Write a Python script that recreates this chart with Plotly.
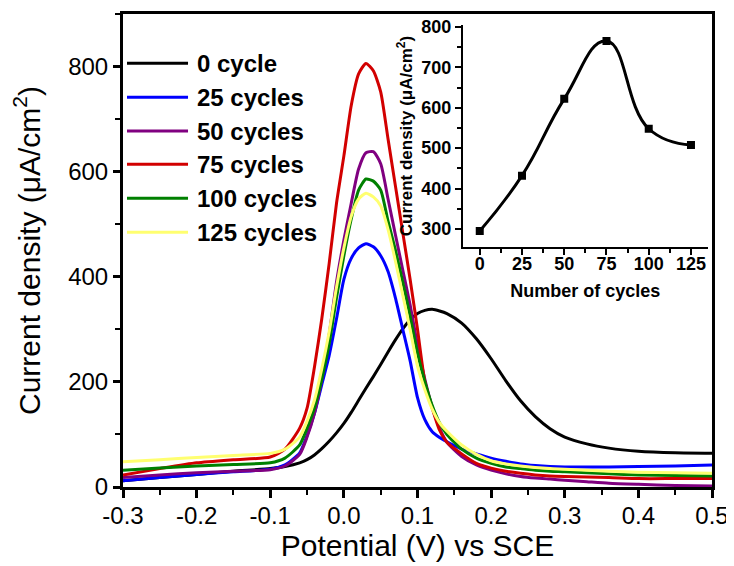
import plotly.graph_objects as go

# ---------------- data ----------------
potential = [-0.30, -0.25, -0.20, -0.15, -0.10, -0.08, -0.06, -0.05, -0.04, -0.03, -0.02, -0.01,
             0.00, 0.01, 0.02, 0.03, 0.04, 0.05, 0.06, 0.07, 0.08, 0.09, 0.10, 0.11, 0.12, 0.13,
             0.14, 0.16, 0.18, 0.20, 0.22, 0.24, 0.26, 0.28, 0.30, 0.33, 0.36, 0.40, 0.45, 0.50]

cycle0 = [12, 18, 24, 30, 35, 39, 46, 52, 61, 73, 87, 103, 121, 142, 165, 188, 210, 233, 257, 280,
          301, 318, 330, 336, 338, 335, 330, 312, 282, 244, 202, 164, 134, 111, 95, 82, 74, 68, 65, 64]
cycle25 = [12, 18, 24, 29, 34, 42, 65, 98, 140, 195, 250, 320, 395, 435, 455, 463, 457, 440, 410, 360,
           300, 240, 170, 128, 105, 94, 86, 72, 63, 55, 49, 44, 41, 39, 38, 38, 38, 39, 40, 42]
cycle50 = [18, 23, 27, 30, 33, 40, 62, 95, 140, 205, 290, 390, 470, 540, 605, 636, 638, 615, 548, 480,
           413, 346, 270, 205, 152, 112, 85, 58, 42, 32, 25, 20, 17, 15, 13, 10, 7, 5, 3, 2]
cycle75 = [23, 35, 46, 52, 57, 72, 112, 150, 228, 320, 425, 540, 630, 726, 786, 806, 792, 752, 662, 573,
           484, 395, 300, 200, 150, 108, 85, 63, 45, 36, 30, 26, 23, 21, 20, 19, 18, 16, 16, 16]
cycle100 = [32, 36, 40, 43, 46, 55, 80, 112, 150, 205, 272, 360, 440, 510, 565, 586, 582, 565, 506, 451,
            390, 325, 255, 200, 155, 122, 100, 72, 55, 45, 38, 35, 32, 30, 29, 27, 25, 23, 22, 21]
cycle125 = [48, 52, 56, 60, 64, 72, 95, 125, 165, 225, 295, 380, 455, 515, 548, 559, 552, 535, 490, 430,
            365, 300, 230, 185, 148, 122, 106, 80, 62, 50, 44, 40, 37, 35, 34, 32, 30, 28, 27, 26]

series_names = ["0 cycle", "25 cycles", "50 cycles", "75 cycles", "100 cycles", "125 cycles"]
series_values = [cycle0, cycle25, cycle50, cycle75, cycle100, cycle125]
series_colors = ["#000000", "#0000FF", "#800080", "#D20000", "#008000", "#FFFF70"]

x_tickvals = [-0.3, -0.2, -0.1, 0.0, 0.1, 0.2, 0.3, 0.4, 0.5]
x_ticktext = ["-0.3", "-0.2", "-0.1", "0.0", "0.1", "0.2", "0.3", "0.4", "0.5"]
y_tickvals = [0, 200, 400, 600, 800]

inset_cycles = [0, 25, 50, 75, 100, 125]
inset_density = [295, 432, 622, 765, 548, 508]
inset_yticks = [300, 400, 500, 600, 700, 800]

FONT = "Liberation Sans, Arial, sans-serif"

fig = go.Figure()
for name, vals, col in zip(series_names, series_values, series_colors):
    fig.add_trace(go.Scatter(x=potential, y=vals, mode="lines", name=name,
                             line=dict(color=col, width=3, shape="spline", smoothing=0.6),
                             showlegend=False))

fig.add_trace(go.Scatter(x=inset_cycles, y=inset_density, mode="lines+markers",
                         xaxis="x2", yaxis="y2", showlegend=False,
                         line=dict(color="black", width=3, shape="spline", smoothing=1.3),
                         marker=dict(symbol="square", size=8, color="black")))

# custom legend (long line samples like the original)
leg_y = [0.8958, 0.8239, 0.7526, 0.6822, 0.6104, 0.5385]
shapes = []
annotations = []
for name, col, yy in zip(series_names, series_colors, leg_y):
    shapes.append(dict(type="line", xref="paper", yref="paper", x0=0.0068, x1=0.1104, y0=yy, y1=yy,
                       line=dict(color=col, width=3)))
    annotations.append(dict(xref="paper", yref="paper", x=0.1222, y=yy, text=name, showarrow=False,
                            xanchor="left", yanchor="middle",
                            font=dict(family=FONT, size=24, color="black", weight="bold")))

# the page body adds an 8px offset; the figure is sized so the plot box lands where the original has it
fig.update_layout(
    width=726, height=558,
    margin=dict(l=115, r=22, t=6, b=79, autoexpand=False),
    paper_bgcolor="white", plot_bgcolor="white",
    font=dict(family=FONT, color="black"),
    shapes=shapes, annotations=annotations,
    xaxis=dict(range=[-0.3, 0.5], domain=[0, 1], tickmode="array", tickvals=x_tickvals, ticktext=x_ticktext,
               showline=True, linecolor="black", linewidth=3, mirror=True, showgrid=False, zeroline=False,
               ticks="outside", ticklen=8, tickwidth=2.5, tickcolor="black", automargin=False,
               ticklabelstandoff=-3,
               minor=dict(tickmode="linear", tick0=-0.3, dtick=0.05, ticks="outside", ticklen=5, tickwidth=2,
                          tickcolor="black", showgrid=False),
               tickfont=dict(size=24, family=FONT),
               title=dict(text="Potential (V) vs SCE", font=dict(size=30, family=FONT), standoff=7)),
    yaxis=dict(range=[0, 900], tickmode="array", tickvals=y_tickvals,
               showline=True, linecolor="black", linewidth=3, mirror=True, showgrid=False, zeroline=False,
               ticks="outside", ticklen=7, tickwidth=2.5, tickcolor="black", automargin=False,
               minor=dict(tickmode="linear", tick0=0, dtick=100, ticks="outside", ticklen=5, tickwidth=2,
                          tickcolor="black", showgrid=False),
               tickfont=dict(size=24, family=FONT),
               title=dict(text="Current density (μA/cm<sup>2</sup>)", font=dict(size=30, family=FONT), standoff=24)),
    xaxis2=dict(domain=[0.577, 0.993], anchor="y2", range=[-10, 135], tickmode="array",
                tickvals=inset_cycles, automargin=False,
                showline=True, linecolor="black", linewidth=2, mirror=False, showgrid=False, zeroline=False,
                ticks="outside", ticklen=6, tickwidth=2, tickcolor="black",
                ticklabelstandoff=-7,
                minor=dict(tickmode="linear", tick0=0, dtick=12.5, ticks="outside", ticklen=4, tickwidth=1.5,
                           tickcolor="black", showgrid=False),
                tickfont=dict(size=18, family=FONT, weight="bold"),
                title=dict(text="Number of cycles", font=dict(size=18, family=FONT, weight="bold"), standoff=12)),
    yaxis2=dict(domain=[0.507, 0.977], anchor="x2", range=[255, 805], tickmode="array",
                tickvals=inset_yticks, automargin=False,
                showline=True, linecolor="black", linewidth=2, mirror=False, showgrid=False, zeroline=False,
                ticks="outside", ticklen=6, tickwidth=2, tickcolor="black",
                minor=dict(tickmode="linear", tick0=300, dtick=50, ticks="outside", ticklen=4, tickwidth=1.5,
                           tickcolor="black", showgrid=False),
                tickfont=dict(size=18, family=FONT, weight="bold"),
                title=dict(text="Current density (μA/cm<sup>2</sup>)", font=dict(size=17, family=FONT, weight="bold"),
                           standoff=4)),
)

fig.write_html("out.html")
